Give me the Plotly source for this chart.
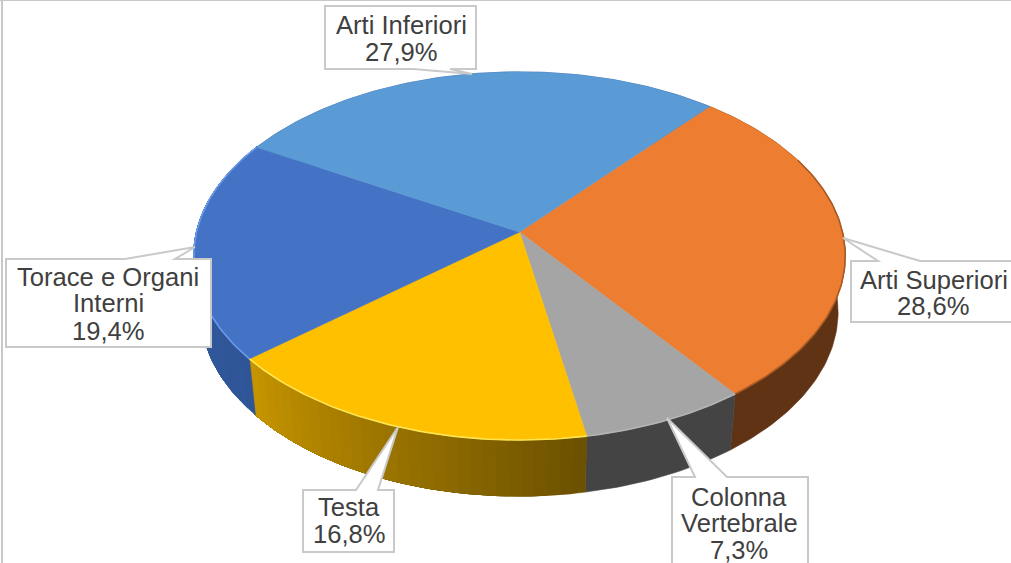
import math
import plotly.graph_objects as go

LABELS = [["Arti Superiori"], ["Colonna", "Vertebrale"], ["Testa"], ["Torace e Organi", "Interni"], ["Arti Inferiori"]]
VALUES = [28.6, 7.3, 16.8, 19.4, 27.9]
TOP_COLORS = ["#ED7D31", "#A5A5A5", "#FFC000", "#4472C4", "#5B9BD5"]
# side wall colours, left and right end of each slice (angle runs clockwise on screen)
WALL_START = ["#5F3314", "#444444", "#6A5000", "#2F5597", "#2F5597"]
WALL_END = ["#5F3314", "#444444", "#C79500", "#3560A6", "#2F5597"]
RIM_COLORS = ["#A85A25", "#B4B4B4", "#FFE552", "#6A9BEA", "#5B9BD5"]
# the bevel on the orange slice only starts part way round
RIM_SKIP = [25, 0, 0, 0, 0]

CX, CY = 519.5, 232
RX, RY = 323, 181
PERSP = 0.13
START_DEG = -49.7
DEPTH = 56
BOTTOM_SCALE = 0.978

# callout boxes: corners, wedge base, wedge tip, text centre x, text line centres y
BOXES = [
    dict(x0=851, x1=1016, y0=261, y1=322, base=(878, 920), tip=(843, 238), side="top", tx=933.5, ty=[280, 306]),
    dict(x0=672, x1=808, y0=477, y1=570, base=(695, 727), tip=(667, 418), side="top", tx=739, ty=[497, 523, 550]),
    dict(x0=303, x1=394, y0=490, y1=552, base=(356, 378), tip=(398, 427), side="top", tx=349, ty=[507, 534]),
    dict(x0=6, x1=211, y0=259, y1=347, base=(125, 175), tip=(195, 247), side="top", tx=108, ty=[277, 303, 331]),
    dict(x0=325, x1=476, y0=6, y1=69, base=(413, 450), tip=(472, 74), side="bottom", tx=401, ty=[25, 52]),
]


def project(deg, scale=1.0, dy=0):
    t = math.radians(deg)
    w = 1 / (1 - PERSP * math.sin(t))
    return CX + scale * RX * math.cos(t) * w, CY + dy + RY * math.sin(t) * w


def mix(a, b, f):
    ca = [int(a[i:i + 2], 16) for i in (1, 3, 5)]
    cb = [int(b[i:i + 2], 16) for i in (1, 3, 5)]
    return "rgb(%d,%d,%d)" % tuple(round(p + (q - p) * f) for p, q in zip(ca, cb))


def poly(xs, ys, color):
    return go.Scatter(x=xs, y=ys, mode="lines", fill="toself", fillcolor=color,
                      line=dict(width=0.6, color=color), hoverinfo="skip", showlegend=False)


def arc(a0, a1, scale=1.0, dy=0):
    n = max(1, int(abs(a1 - a0)))
    return [project(a0 + (a1 - a0) * j / n, scale, dy) for j in range(n + 1)]


fig = go.Figure()

total = sum(VALUES)
edges = [START_DEG]
for v in VALUES:
    edges.append(edges[-1] + v / total * 360)

# side walls first; each strip runs on to the end of the slice so no seams show
for i in range(len(VALUES)):
    a0, a1 = edges[i], edges[i + 1]
    n = 1 if WALL_START[i] == WALL_END[i] else 30
    for j in range(n):
        s0 = a0 + (a1 - a0) * j / n
        pts = arc(s0, a1) + arc(a1, s0, BOTTOM_SCALE, DEPTH)
        pts.append(pts[0])
        fig.add_trace(poly([p[0] for p in pts], [p[1] for p in pts],
                           mix(WALL_START[i], WALL_END[i], (j + 0.5) / n)))

# top face
for i in range(len(VALUES)):
    pts = [(CX, CY)] + arc(edges[i], edges[i + 1]) + [(CX, CY)]
    fig.add_trace(poly([p[0] for p in pts], [p[1] for p in pts], TOP_COLORS[i]))

# bevel along the rim
for i in range(4):
    pts = arc(edges[i] + RIM_SKIP[i], edges[i + 1])
    fig.add_trace(go.Scatter(x=[p[0] for p in pts], y=[p[1] for p in pts], mode="lines",
                             line=dict(width=1.6, color=RIM_COLORS[i]),
                             hoverinfo="skip", showlegend=False))

shapes = [
    dict(type="line", x0=2, x1=2, y0=0, y1=563, line=dict(color="#C8C8C8", width=2), layer="above"),
    dict(type="line", x0=0, x1=1011, y0=0, y1=0, line=dict(color="#C8C8C8", width=2), layer="above"),
]
annotations = []
for b, label, v in zip(BOXES, LABELS, VALUES):
    edge = b["y0"] if b["side"] == "top" else b["y1"]
    corners = [(b["x0"], b["y0"]), (b["x1"], b["y0"]), (b["x1"], b["y1"]), (b["x0"], b["y1"])]
    if b["side"] == "top":
        outline = [corners[0], (b["base"][0], edge), b["tip"], (b["base"][1], edge), corners[1], corners[2], corners[3]]
    else:
        outline = [corners[0], corners[1], corners[2], (b["base"][1], edge), b["tip"], (b["base"][0], edge), corners[3]]
    path = "M " + " L ".join(f"{x} {y}" for x, y in outline) + " Z"
    shapes.append(dict(type="path", path=path, fillcolor="white",
                       line=dict(color="#C9C9C9", width=2), layer="above"))
    lines = label + [f"{str(v).replace('.', ',')}%"]
    for line, y in zip(lines, b["ty"]):
        annotations.append(dict(x=b["tx"], y=y, xref="x", yref="y", showarrow=False, text=line,
                                font=dict(family="Liberation Sans", size=25.6, color="#404040")))

fig.update_layout(
    width=1011, height=563,
    margin=dict(l=0, r=0, t=0, b=0),
    paper_bgcolor="white", plot_bgcolor="white",
    xaxis=dict(range=[0, 1011], visible=False, fixedrange=True),
    yaxis=dict(range=[563, 0], visible=False, fixedrange=True),
    shapes=shapes, annotations=annotations,
    showlegend=False,
)

fig.write_html("out.html", config=dict(displayModeBar=False),
               post_script="document.body.style.margin='0';")
